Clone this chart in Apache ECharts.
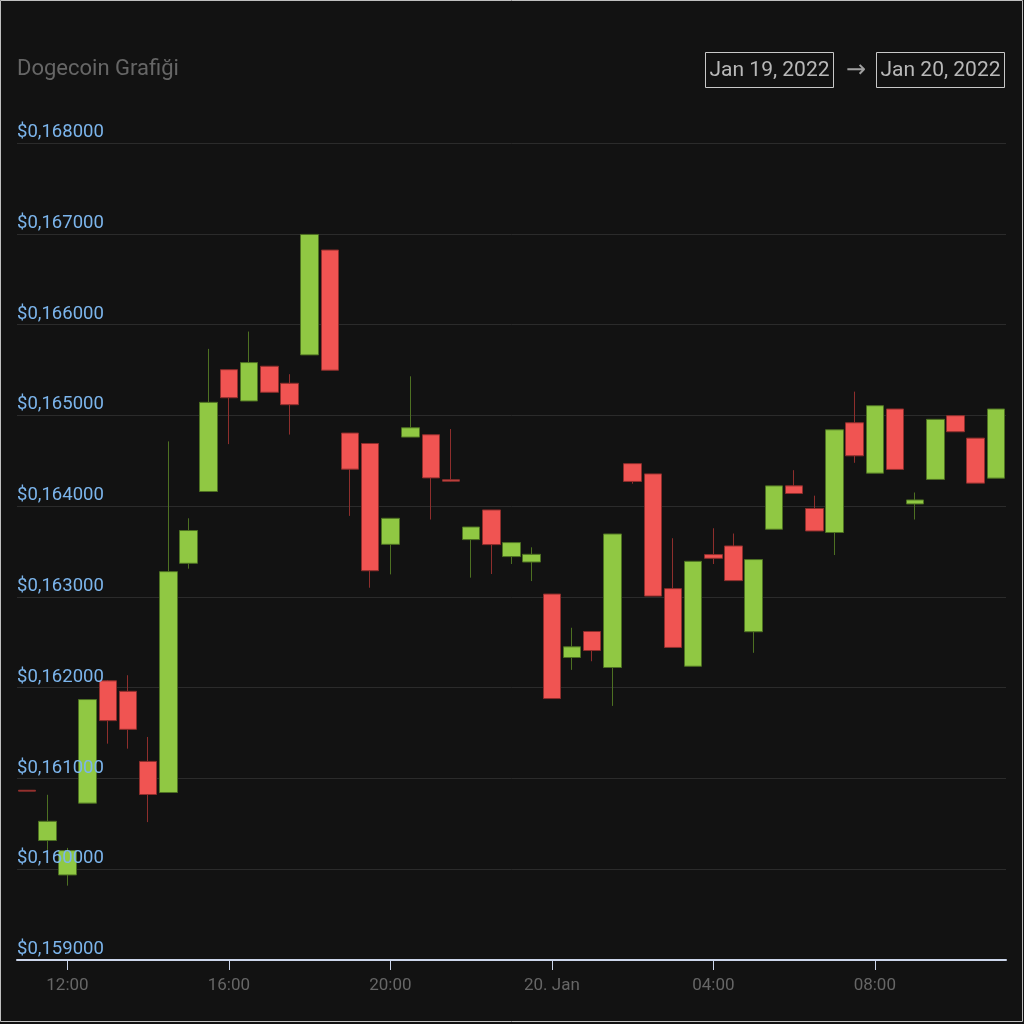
<!DOCTYPE html>
<html>
<head>
<meta charset="utf-8">
<script src="https://cdn.jsdelivr.net/npm/echarts@6/dist/echarts.min.js"></script>
<style>
html,body{margin:0;padding:0;background:#121212;}
#chart{width:1024px;height:1024px;}
</style>
</head>
<body>
<div id="chart"></div>
<script>
// Half-hour candles, Jan 19 11:00 -> Jan 20 11:00
const times = ["11:00","11:30","12:00","12:30","13:00","13:30","14:00","14:30","15:00","15:30",
  "16:00","16:30","17:00","17:30","18:00","18:30","19:00","19:30","20:00","20:30",
  "21:00","21:30","22:00","22:30","23:00","23:30","00:00","00:30","01:00","01:30",
  "02:00","02:30","03:00","03:30","04:00","04:30","05:00","05:30","06:00","06:30",
  "07:00","07:30","08:00","08:30","09:00","09:30","10:00","10:30","11:00"];
const openVals = [0.160870,0.160316,0.159937,0.160728,0.162075,0.161960,0.161188,0.160845,0.163370,0.164161,
  0.165503,0.165158,0.165541,0.165353,0.165666,0.166821,0.164805,0.164690,0.163579,0.164760,
  0.164786,0.164290,0.163631,0.163958,0.163444,0.163384,0.163031,0.162332,0.162619,0.162222,
  0.164468,0.164355,0.163091,0.162236,0.163466,0.163561,0.162616,0.163745,0.164223,0.163974,
  0.163709,0.164918,0.164363,0.165070,0.164024,0.164294,0.164996,0.164749,0.164308];
const closeVals = [0.160860,0.160528,0.160205,0.161869,0.161637,0.161541,0.160823,0.163278,0.163731,0.165143,
  0.165194,0.165581,0.165254,0.165117,0.166993,0.165497,0.164407,0.163288,0.163866,0.164863,
  0.164311,0.164275,0.163770,0.163576,0.163598,0.163469,0.161880,0.162450,0.162409,0.163693,
  0.164272,0.163009,0.162443,0.163392,0.163425,0.163179,0.163411,0.164223,0.164139,0.163726,
  0.164841,0.164554,0.165106,0.164404,0.164068,0.164956,0.164819,0.164253,0.165070];
const lowVals = [0.160860,0.160213,0.159819,0.160728,0.161383,0.161328,0.160519,0.160845,0.163311,0.164161,
  0.164683,0.165158,0.165254,0.164788,0.165666,0.165497,0.163892,0.163101,0.163248,0.164760,
  0.163852,0.164270,0.163212,0.163252,0.163362,0.163174,0.161880,0.162196,0.162291,0.161799,
  0.164247,0.163009,0.162443,0.162236,0.163362,0.163179,0.162384,0.163745,0.164139,0.163726,
  0.163461,0.164477,0.164363,0.164404,0.163852,0.164294,0.164819,0.164253,0.164308];
const highVals = [0.160870,0.160820,0.160235,0.161869,0.162085,0.162137,0.161457,0.164713,0.163866,0.165732,
  0.165503,0.165923,0.165541,0.165453,0.166993,0.166821,0.164805,0.164690,0.163866,0.165430,
  0.164786,0.164849,0.163770,0.163958,0.163598,0.163546,0.163031,0.162660,0.162619,0.163693,
  0.164468,0.164355,0.163646,0.163392,0.163756,0.163698,0.163411,0.164223,0.164396,0.164115,
  0.164841,0.165261,0.165106,0.165070,0.164150,0.164956,0.164996,0.164749,0.165070];
const tickTimes = ["12:00","16:00","20:00","00:00","04:00","08:00"];
const tickLabels = {"12:00":"12:00","16:00":"16:00","20:00":"20:00","00:00":"20. Jan","04:00":"04:00","08:00":"08:00"};
const yMin = 0.159, yMax = 0.168, yStep = 0.001;
const titleText = "Dogecoin Grafiği";
const rangeFrom = "Jan 19, 2022", rangeTo = "Jan 20, 2022";

const ohlc = times.map((t, i) => [openVals[i], closeVals[i], lowVals[i], highVals[i]]);
const showTick = (idx, val) => tickTimes.indexOf(val) >= 0 && idx > 0;
const priceFmt = v => '$' + v.toFixed(6).replace('.', ',');

const chart = echarts.init(document.getElementById('chart'), null, {renderer: 'canvas'});
chart.setOption({
  backgroundColor: '#121212',
  animation: false,
  textStyle: {fontFamily: 'Roboto'},
  title: {
    text: titleText, left: 17, top: 58, padding: 0,
    textStyle: {color: '#666666', fontSize: 22, fontWeight: 'normal', fontFamily: 'Roboto'}
  },
  grid: {left: 17, right: 18, top: 143, bottom: 64, containLabel: false},
  xAxis: {
    type: 'category', data: times, boundaryGap: true,
    axisLine: {show: true, lineStyle: {color: '#ccd6eb', width: 2}},
    axisTick: {show: true, alignWithLabel: true, interval: showTick, length: 10, lineStyle: {color: '#ccd6eb', width: 1}},
    axisLabel: {
      interval: showTick, color: '#666666', fontSize: 17, margin: 17, fontFamily: 'Roboto',
      formatter: v => tickLabels[v] || v
    },
    splitLine: {show: false}
  },
  yAxis: [{
    type: 'value', min: yMin, max: yMax, interval: yStep,
    axisLine: {show: false}, axisTick: {show: false},
    axisLabel: {show: false},
    splitLine: {show: true, lineStyle: {color: '#2b2b2b', width: 1}}
  }, {
    type: 'value', position: 'left', min: yMin, max: yMax, interval: yStep, z: 10,
    axisLine: {show: false}, axisTick: {show: false},
    axisLabel: {
      inside: true, margin: 0, color: '#7cb5ec', fontSize: 18.5, fontFamily: 'Roboto',
      verticalAlign: 'bottom', padding: [0, 0, 1, 0],
      formatter: priceFmt
    },
    splitLine: {show: false}
  }],
  series: [{
    type: 'candlestick',
    yAxisIndex: 0,
    data: ohlc,
    barWidth: 18,
    itemStyle: {
      color: '#90c843', color0: '#f05452',
      borderColor: '#4d7022', borderColor0: '#8e2e2c', borderWidth: 1
    }
  }],
  graphic: [
    {type: 'rect', shape: {x: 0.5, y: 0.5, width: 1022, height: 1021}, style: {fill: 'none', stroke: '#bfbfbf', lineWidth: 1}, silent: true, z: 100},
    {type: 'rect', shape: {x: 705.5, y: 52.5, width: 128, height: 35}, style: {fill: 'none', stroke: '#c8c8c8', lineWidth: 1}},
    {type: 'text', x: 769.5, y: 71, style: {text: rangeFrom, fill: '#b8b8b8', font: '21px Roboto', align: 'center', verticalAlign: 'middle'}},
    {type: 'text', x: 856, y: 71, style: {text: '→', fill: '#a0a0a0', font: '24px "DejaVu Sans"', align: 'center', verticalAlign: 'middle'}},
    {type: 'rect', shape: {x: 876.5, y: 52.5, width: 128, height: 35}, style: {fill: 'none', stroke: '#c8c8c8', lineWidth: 1}},
    {type: 'text', x: 940.5, y: 71, style: {text: rangeTo, fill: '#b8b8b8', font: '21px Roboto', align: 'center', verticalAlign: 'middle'}}
  ]
});
</script>
</body>
</html>
